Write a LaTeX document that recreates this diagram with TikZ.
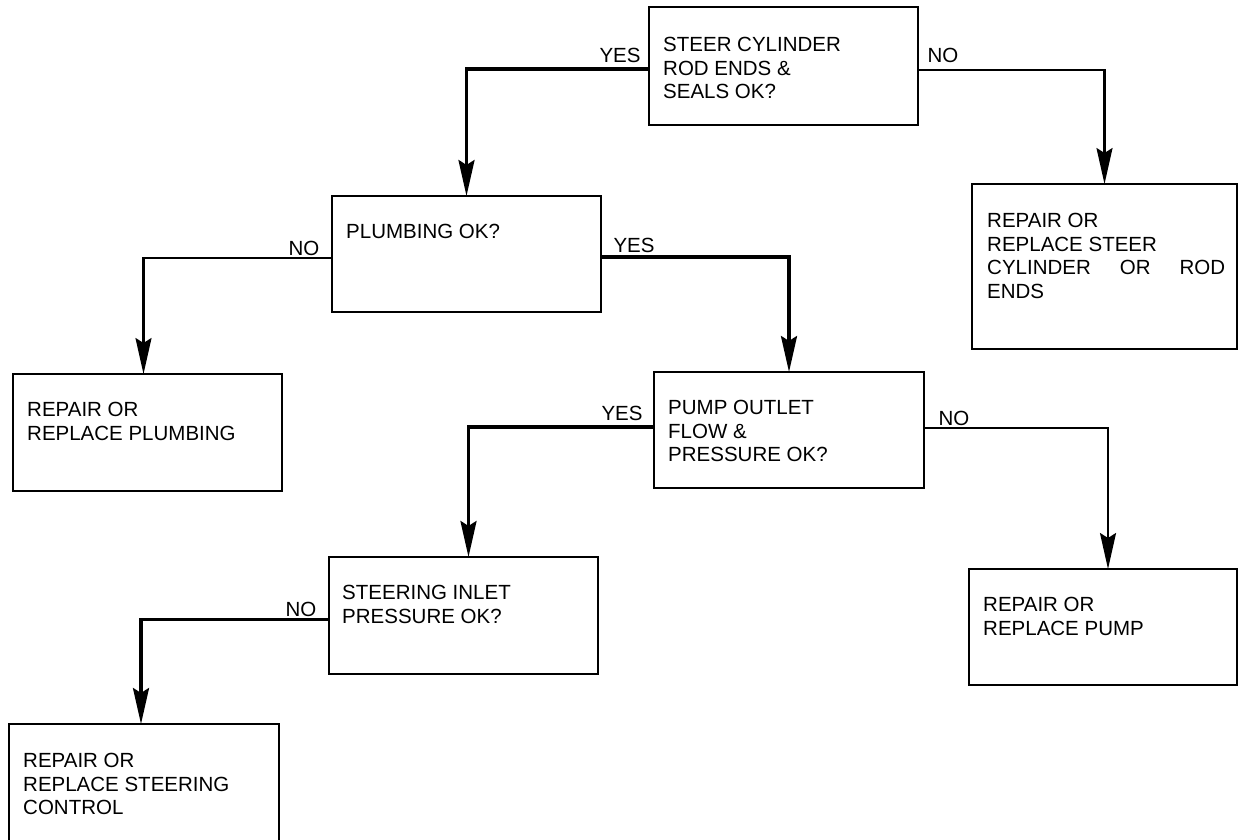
\documentclass[tikz,border=0pt]{standalone}
\usepackage{fontspec}
\setmainfont{Liberation Sans}
\usetikzlibrary{arrows.meta}
\begin{document}
\begin{tikzpicture}[x=1pt,y=-1pt,
  box/.style={draw, line width=1.8pt, rectangle, anchor=north west, inner sep=0pt, outer sep=0pt},
  txt/.style={anchor=north west, inner sep=0pt, align=left, font=\fontsize{20.5}{23.5}\selectfont},
  lbl/.style={inner sep=0pt, font=\fontsize{20.5}{23.5}\selectfont},
  conn/.style={line width=2.2pt, -{Stealth[length=36pt,width=16pt,inset=5pt]}},
  thickconn/.style={conn, line width=3.2pt}]
\useasboundingbox (0,0) rectangle (1238,839);
% boxes
\node[box, minimum width=269pt, minimum height=118pt] (b1) at (649,7) {};
\node[box, minimum width=269pt, minimum height=116pt] (b2) at (332,196) {};
\node[box, minimum width=265pt, minimum height=165pt] (b3) at (972,184) {};
\node[box, minimum width=269pt, minimum height=117pt] (b4) at (13,374) {};
\node[box, minimum width=270pt, minimum height=116pt] (b5) at (654,372) {};
\node[box, minimum width=269pt, minimum height=117pt] (b6) at (329,557) {};
\node[box, minimum width=268pt, minimum height=116pt] (b7) at (969,569) {};
\node[box, minimum width=270pt, minimum height=117pt] (b8) at (9,724) {};
% texts
\node[txt] (t1) at ([shift={(14pt,-30pt)}]b1.north west) {STEER CYLINDER\\ROD ENDS \&\\SEALS OK?};
\node[txt] (t2) at ([shift={(14pt,-28pt)}]b2.north west) {PLUMBING OK?};
\node[txt] (t3) at ([shift={(15pt,-29pt)}]b3.north west) {REPAIR OR\\REPLACE STEER\\\makebox[238pt][l]{CYLINDER\hfill OR\hfill ROD}\\ENDS};
\node[txt] (t4) at ([shift={(14pt,-28pt)}]b4.north west) {REPAIR OR\\REPLACE PLUMBING};
\node[txt] (t5) at ([shift={(14pt,-28pt)}]b5.north west) {PUMP OUTLET\\FLOW \&\\PRESSURE OK?};
\node[txt] (t6) at ([shift={(13pt,-28pt)}]b6.north west) {STEERING INLET\\PRESSURE OK?};
\node[txt] (t7) at ([shift={(14pt,-28pt)}]b7.north west) {REPAIR OR\\REPLACE PUMP};
\node[txt] (t8) at ([shift={(14pt,-29pt)}]b8.north west) {REPAIR OR\\REPLACE STEERING\\CONTROL};
% labels
\node[lbl] (y1) at (620,55) {YES};
\node[lbl] (n1) at (943,55) {NO};
\node[lbl] (n2) at (304,248) {NO};
\node[lbl] (y2) at (634,245) {YES};
\node[lbl] (y5) at (622,413) {YES};
\node[lbl] (n5) at (954,418) {NO};
\node[lbl] (n6) at (301,609) {NO};
% connectors
\draw[thickconn] ([yshift=-3pt]b1.west) -| (b2.north);
\draw[conn] ([yshift=-4pt]b1.east) -| (b3.north);
\draw[conn] ([yshift=-4pt]b2.west) -| ([xshift=-4pt]b4.north);
\draw[thickconn] ([yshift=-3pt]b2.east) -| (b5.north);
\draw[thickconn] ([yshift=3pt]b5.west) -| ([xshift=5pt]b6.north);
\draw[conn] ([yshift=2pt]b5.east) -| ([xshift=5pt]b7.north);
\draw[thickconn] ([yshift=-4pt]b6.west) -| ([xshift=-3pt]b8.north);
\end{tikzpicture}
\end{document}
